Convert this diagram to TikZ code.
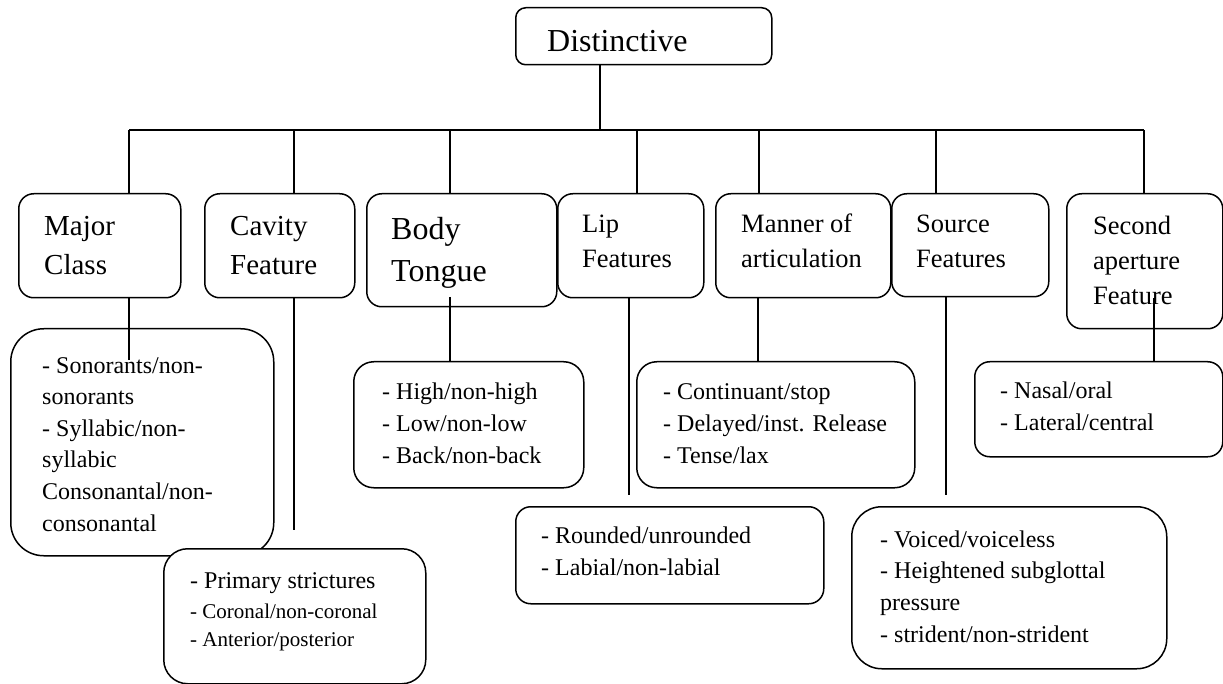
\documentclass[tikz,border=0pt]{standalone}
\usepackage{fontspec}
\setmainfont{Liberation Serif}
\begin{document}
\begin{tikzpicture}[x=1pt,y=-1pt,
  box/.style={draw, line width=1.5pt, inner sep=0pt, anchor=north west},
  conn/.style={line width=1.5pt},
  txt/.style={anchor=base west, inner sep=0pt, align=left},
  fA/.style={font=\fontsize{32}{42}\selectfont},
  fB/.style={font=\fontsize{29}{39}\selectfont},
  fC/.style={font=\fontsize{26.5}{35}\selectfont},
  fD/.style={font=\fontsize{24}{31.6}\selectfont},
  fE/.style={font=\fontsize{21}{28}\selectfont}]
\useasboundingbox (0,0) rectangle (1223,684);
% level 1
\node[box, rounded corners=10pt, minimum width=256pt, minimum height=57pt] (dist) at (515,7) {};
% level 2
\node[box, rounded corners=15pt, minimum width=162pt, minimum height=104pt] (major) at (18,193) {};
\node[box, rounded corners=15pt, minimum width=150pt, minimum height=104pt] (cavity) at (204,193) {};
\node[box, rounded corners=15pt, minimum width=190pt, minimum height=113pt] (body) at (366,193) {};
\node[box, rounded corners=15pt, minimum width=146pt, minimum height=104pt] (lip) at (557,193) {};
\node[box, rounded corners=15pt, minimum width=175pt, minimum height=104pt] (manner) at (715,193) {};
\node[box, rounded corners=15pt, minimum width=157pt, minimum height=103pt] (source) at (891,193) {};
\node[box, rounded corners=15pt, minimum width=156pt, minimum height=135pt] (second) at (1066,193) {};
% level 3
\node[box, rounded corners=33pt, minimum width=263pt, minimum height=227pt] (majorL) at (10,328) {};
\node[box, fill=white, rounded corners=24pt, minimum width=262pt, minimum height=135pt] (cavityL) at (163,548) {};
\node[box, rounded corners=20pt, minimum width=230pt, minimum height=126pt] (bodyL) at (353,361) {};
\node[box, rounded corners=15pt, minimum width=308pt, minimum height=97pt] (lipL) at (515,506) {};
\node[box, rounded corners=20pt, minimum width=278pt, minimum height=126pt] (mannerL) at (636,361) {};
\node[box, rounded corners=30pt, minimum width=315pt, minimum height=162pt] (sourceL) at (851,506) {};
\node[box, rounded corners=15pt, minimum width=248pt, minimum height=95pt] (secondL) at (974,361) {};
% texts (base anchor = baseline of the last line)
\node[txt, fA] (distT) at (547,52) {Distinctive};
\node[txt, fB] (majorT) at (44,275) {Major\\Class};
\node[txt, fB] (cavityT) at (230,275) {Cavity\\Feature};
\node[txt, fA] (bodyT) at (391,282) {Body\\Tongue};
\node[txt, fC] (lipT) at (582,268) {Lip\\Features};
\node[txt, fC] (mannerT) at (741,268) {Manner of\\articulation};
\node[txt, fC] (sourceT) at (916,268) {Source\\Features};
\node[txt, fC] (secondT) at (1093,305) {Second\\aperture\\Feature};
\node[txt, fD] (majorLT) at (42,531) {- Sonorants/non-\\sonorants\\- Syllabic/non-\\syllabic\\Consonantal/non-\\consonantal};
\node[txt, fD] (cavityLT1) at (190,588) {- Primary strictures};
\node[txt, fE] (cavityLT2) at (190,646) {- Coronal/non-coronal\\- Anterior/posterior};
\node[txt, fD] (bodyLT) at (382,463) {- High/non-high\\- Low/non-low\\- Back/non-back};
\node[txt, fD] (mannerLT) at (663,463) {- Continuant/stop\\- Delayed/inst. Release\\- Tense/lax};
\node[txt, fD] (lipLT) at (541,575) {- Rounded/unrounded\\- Labial/non-labial};
\node[txt, fD] (sourceLT) at (880,642) {- Voiced/voiceless\\- Heightened subglottal\\pressure\\- strident/non-strident};
\node[txt, fD] (secondLT) at (1000,430) {- Nasal/oral\\- Lateral/central};
% bus coordinates
\coordinate (j0) at (600,130);
\coordinate (j1) at (129,130);
\coordinate (j2) at (294,130);
\coordinate (j3) at (450,130);
\coordinate (j4) at (637,130);
\coordinate (j5) at (759,130);
\coordinate (j6) at (936,130);
\coordinate (j7) at (1144,130);
% free ends
\coordinate (e1) at (129,360);
\coordinate (e2) at (294,530);
\coordinate (s3) at (450,297);
\coordinate (e4) at (629,495);
\coordinate (e6) at (946,495);
\coordinate (s7) at (1154,298);
% connectors
\draw[conn] (dist.south -| j0) -- (j0);
\draw[conn] (j1) -- (j7);
\foreach \j/\b in {j1/major, j2/cavity, j3/body, j4/lip, j5/manner, j6/source, j7/second}
  \draw[conn] (\j) -- (\j |- \b.north);
\draw[conn] (major.south -| e1) -- (e1);
\draw[conn] (cavity.south -| e2) -- (e2);
\draw[conn] (s3) -- (s3 |- bodyL.north);
\draw[conn] (lip.south -| e4) -- (e4);
\draw[conn] (manner.south -| 758,0) -- (mannerL.north -| 758,0);
\draw[conn] (source.south -| e6) -- (e6);
\draw[conn] (s7) -- (s7 |- secondL.north);
\end{tikzpicture}
\end{document}
